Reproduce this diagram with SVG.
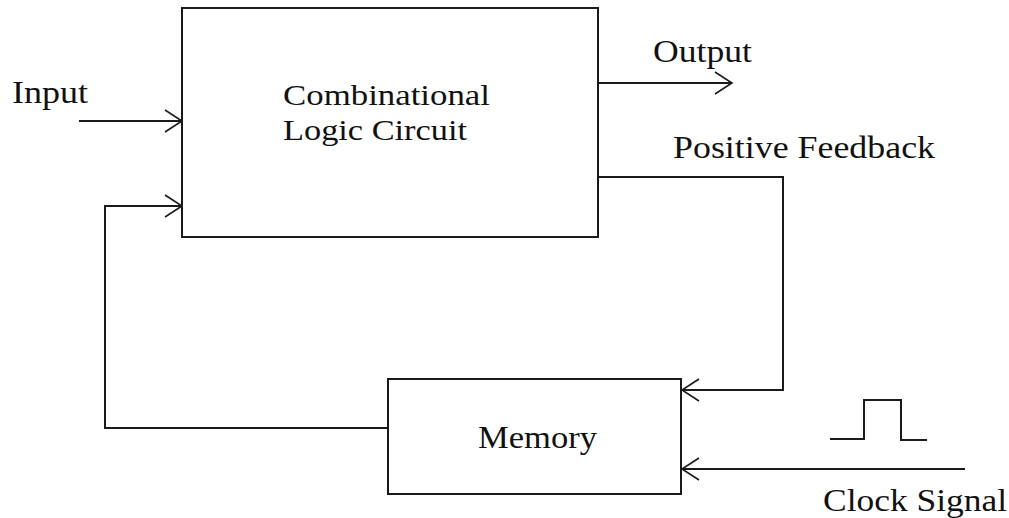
<svg xmlns="http://www.w3.org/2000/svg" width="1009" height="518" viewBox="0 0 1009 518">
  <style>
    .box { fill: #ffffff; stroke: #1a1a1a; stroke-width: 2; }
    .wire { fill: none; stroke: #1a1a1a; stroke-width: 2; }
    .lbl { font-family: "Liberation Serif", "Times New Roman", serif; font-size: 32px; fill: #111111; }
    .blk { font-size: 30px; }
  </style>
  <defs>
    <marker id="chev" markerUnits="userSpaceOnUse" markerWidth="24" markerHeight="28" viewBox="-20 -14 24 28" refX="0" refY="0" orient="auto">
      <path d="M-17,-11 L0,0 L-17,11" fill="none" stroke="#1a1a1a" stroke-width="1.6"/>
    </marker>
  </defs>
  <rect width="1009" height="518" fill="#ffffff"/>

  <g id="connectors">
    <!-- external input -->
    <line class="wire" x1="79" y1="121" x2="182" y2="121" marker-end="url(#chev)"/>
    <!-- output -->
    <line class="wire" x1="598" y1="83" x2="732" y2="83" marker-end="url(#chev)"/>
    <!-- positive feedback into memory -->
    <polyline class="wire" points="598,177 783,177 783,390 682,390" marker-end="url(#chev)"/>
    <!-- memory back to logic -->
    <polyline class="wire" points="388,428 105,428 105,206 182,206" marker-end="url(#chev)"/>
    <!-- clock line -->
    <line class="wire" x1="965" y1="469" x2="682" y2="469" marker-end="url(#chev)"/>
    <!-- clock pulse -->
    <polyline class="wire" points="830,439 864,439 864,400 901,400 901,440 927,440"/>
  </g>

  <g id="logic">
    <rect class="box" x="182" y="8" width="416" height="229"/>
    <text class="lbl blk" x="283" y="105" textLength="207" lengthAdjust="spacingAndGlyphs">Combinational</text>
    <text class="lbl blk" x="283" y="140" textLength="184" lengthAdjust="spacingAndGlyphs">Logic Circuit</text>
  </g>

  <g id="memory">
    <rect class="box" x="388" y="379" width="293" height="115"/>
    <text class="lbl" x="478" y="448" textLength="119" lengthAdjust="spacingAndGlyphs">Memory</text>
  </g>

  <g id="labels">
    <text class="lbl" x="12" y="103" textLength="76" lengthAdjust="spacingAndGlyphs">Input</text>
    <text class="lbl" x="653" y="62" textLength="99" lengthAdjust="spacingAndGlyphs">Output</text>
    <text class="lbl" x="673" y="158" textLength="262" lengthAdjust="spacingAndGlyphs">Positive Feedback</text>
    <text class="lbl" x="823" y="511" textLength="184" lengthAdjust="spacingAndGlyphs">Clock Signal</text>
  </g>
</svg>
